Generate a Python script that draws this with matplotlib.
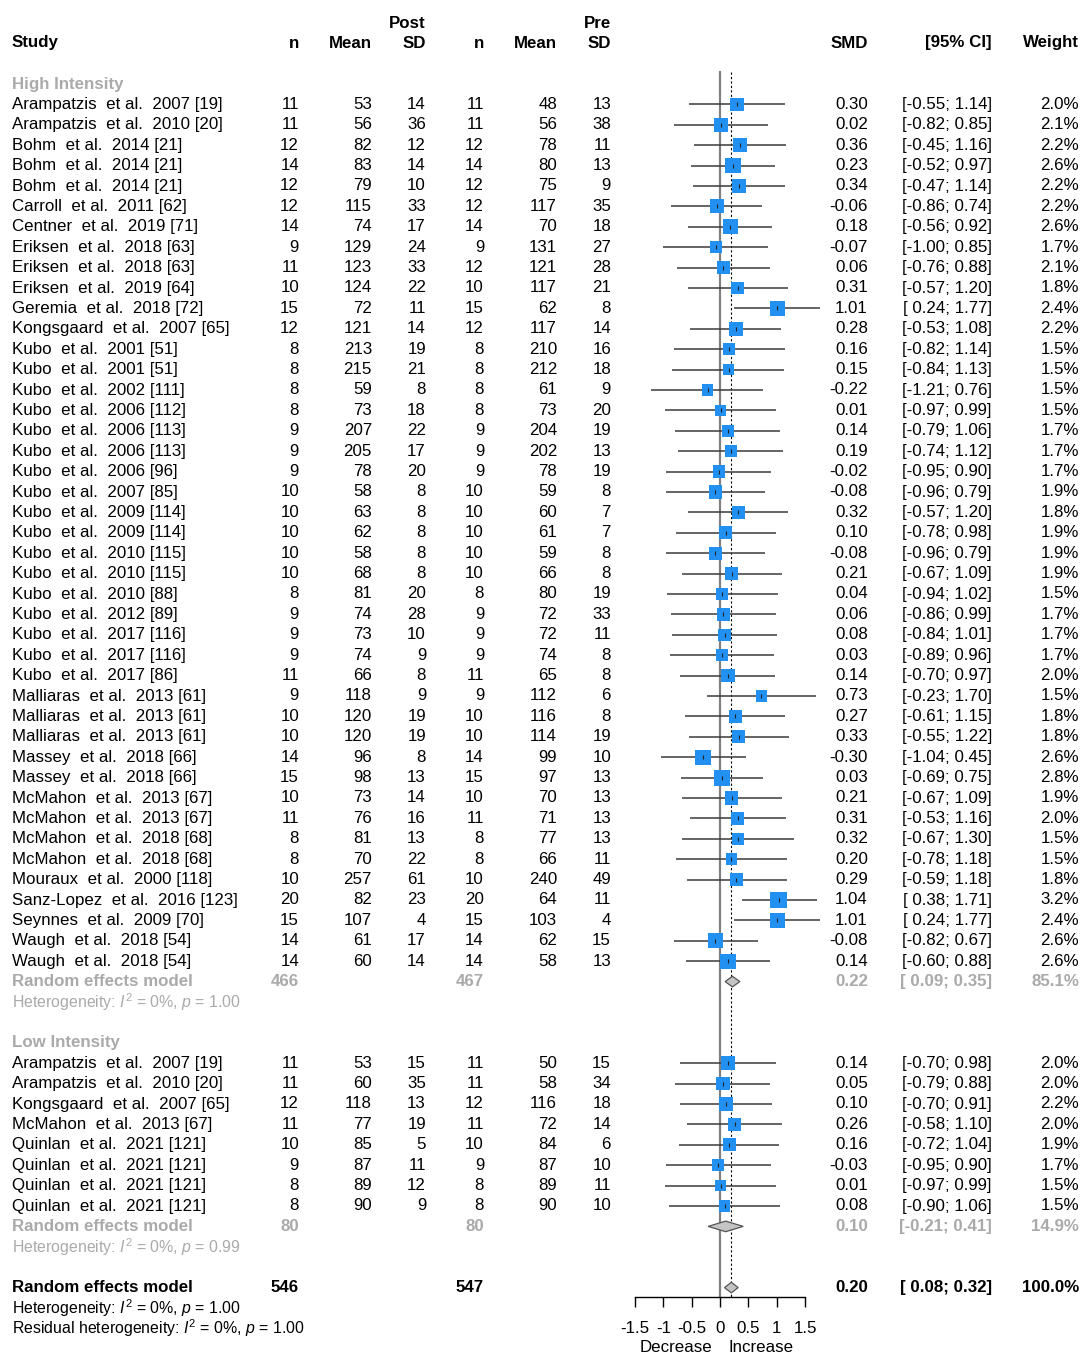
import matplotlib
matplotlib.use("Agg")
import matplotlib.pyplot as plt
from matplotlib.patches import Polygon

plt.rcParams['font.family'] = ['Liberation Sans', 'DejaVu Sans']
plt.rcParams['mathtext.fontset'] = 'custom'
plt.rcParams['mathtext.rm'] = 'Liberation Sans'
plt.rcParams['mathtext.it'] = 'Liberation Sans:italic'

# ---------------- data ----------------
high_study = [
    "Arampatzis  et al.  2007 [19]", "Arampatzis  et al.  2010 [20]",
    "Bohm  et al.  2014 [21]", "Bohm  et al.  2014 [21]", "Bohm  et al.  2014 [21]",
    "Carroll  et al.  2011 [62]", "Centner  et al.  2019 [71]",
    "Eriksen  et al.  2018 [63]", "Eriksen  et al.  2018 [63]", "Eriksen  et al.  2019 [64]",
    "Geremia  et al.  2018 [72]", "Kongsgaard  et al.  2007 [65]",
    "Kubo  et al.  2001 [51]", "Kubo  et al.  2001 [51]", "Kubo  et al.  2002 [111]",
    "Kubo  et al.  2006 [112]", "Kubo  et al.  2006 [113]", "Kubo  et al.  2006 [113]",
    "Kubo  et al.  2006 [96]", "Kubo  et al.  2007 [85]", "Kubo  et al.  2009 [114]",
    "Kubo  et al.  2009 [114]", "Kubo  et al.  2010 [115]", "Kubo  et al.  2010 [115]",
    "Kubo  et al.  2010 [88]", "Kubo  et al.  2012 [89]", "Kubo  et al.  2017 [116]",
    "Kubo  et al.  2017 [116]", "Kubo  et al.  2017 [86]",
    "Malliaras  et al.  2013 [61]", "Malliaras  et al.  2013 [61]", "Malliaras  et al.  2013 [61]",
    "Massey  et al.  2018 [66]", "Massey  et al.  2018 [66]",
    "McMahon  et al.  2013 [67]", "McMahon  et al.  2013 [67]",
    "McMahon  et al.  2018 [68]", "McMahon  et al.  2018 [68]",
    "Mouraux  et al.  2000 [118]", "Sanz-Lopez  et al.  2016 [123]",
    "Seynnes  et al.  2009 [70]", "Waugh  et al.  2018 [54]", "Waugh  et al.  2018 [54]",
]
high_n_post = [11, 11, 12, 14, 12, 12, 14, 9, 11, 10, 15, 12, 8, 8, 8, 8, 9, 9, 9, 10, 10, 10,
               10, 10, 8, 9, 9, 9, 11, 9, 10, 10, 14, 15, 10, 11, 8, 8, 10, 20, 15, 14, 14]
high_mean_post = [53, 56, 82, 83, 79, 115, 74, 129, 123, 124, 72, 121, 213, 215, 59, 73, 207, 205,
                  78, 58, 63, 62, 58, 68, 81, 74, 73, 74, 66, 118, 120, 120, 96, 98, 73, 76, 81,
                  70, 257, 82, 107, 61, 60]
high_sd_post = [14, 36, 12, 14, 10, 33, 17, 24, 33, 22, 11, 14, 19, 21, 8, 18, 22, 17, 20, 8, 8, 8,
                8, 8, 20, 28, 10, 9, 8, 9, 19, 19, 8, 13, 14, 16, 13, 22, 61, 23, 4, 17, 14]
high_n_pre = [11, 11, 12, 14, 12, 12, 14, 9, 12, 10, 15, 12, 8, 8, 8, 8, 9, 9, 9, 10, 10, 10,
              10, 10, 8, 9, 9, 9, 11, 9, 10, 10, 14, 15, 10, 11, 8, 8, 10, 20, 15, 14, 14]
high_mean_pre = [48, 56, 78, 80, 75, 117, 70, 131, 121, 117, 62, 117, 210, 212, 61, 73, 204, 202,
                 78, 59, 60, 61, 59, 66, 80, 72, 72, 74, 65, 112, 116, 114, 99, 97, 70, 71, 77,
                 66, 240, 64, 103, 62, 58]
high_sd_pre = [13, 38, 11, 13, 9, 35, 18, 27, 28, 21, 8, 14, 16, 18, 9, 20, 19, 13, 19, 8, 7, 7,
               8, 8, 19, 33, 11, 8, 8, 6, 8, 19, 10, 13, 13, 13, 13, 11, 49, 11, 4, 15, 13]
high_smd = [0.30, 0.02, 0.36, 0.23, 0.34, -0.06, 0.18, -0.07, 0.06, 0.31, 1.01, 0.28, 0.16, 0.15,
            -0.22, 0.01, 0.14, 0.19, -0.02, -0.08, 0.32, 0.10, -0.08, 0.21, 0.04, 0.06, 0.08,
            0.03, 0.14, 0.73, 0.27, 0.33, -0.30, 0.03, 0.21, 0.31, 0.32, 0.20, 0.29, 1.04,
            1.01, -0.08, 0.14]
high_lo = [-0.55, -0.82, -0.45, -0.52, -0.47, -0.86, -0.56, -1.00, -0.76, -0.57, 0.24, -0.53,
           -0.82, -0.84, -1.21, -0.97, -0.79, -0.74, -0.95, -0.96, -0.57, -0.78, -0.96, -0.67,
           -0.94, -0.86, -0.84, -0.89, -0.70, -0.23, -0.61, -0.55, -1.04, -0.69, -0.67, -0.53,
           -0.67, -0.78, -0.59, 0.38, 0.24, -0.82, -0.60]
high_hi = [1.14, 0.85, 1.16, 0.97, 1.14, 0.74, 0.92, 0.85, 0.88, 1.20, 1.77, 1.08, 1.14, 1.13,
           0.76, 0.99, 1.06, 1.12, 0.90, 0.79, 1.20, 0.98, 0.79, 1.09, 1.02, 0.99, 1.01, 0.96,
           0.97, 1.70, 1.15, 1.22, 0.45, 0.75, 1.09, 1.16, 1.30, 1.18, 1.18, 1.71, 1.77, 0.67,
           0.88]
high_weight = [2.0, 2.1, 2.2, 2.6, 2.2, 2.2, 2.6, 1.7, 2.1, 1.8, 2.4, 2.2, 1.5, 1.5, 1.5, 1.5,
               1.7, 1.7, 1.7, 1.9, 1.8, 1.9, 1.9, 1.9, 1.5, 1.7, 1.7, 1.7, 2.0, 1.5, 1.8, 1.8,
               2.6, 2.8, 1.9, 2.0, 1.5, 1.5, 1.8, 3.2, 2.4, 2.6, 2.6]
high_summary = dict(n_post=466, n_pre=467, smd=0.22, lo=0.09, hi=0.35, weight=85.1, i2=0, p="1.00")

low_study = [
    "Arampatzis  et al.  2007 [19]", "Arampatzis  et al.  2010 [20]",
    "Kongsgaard  et al.  2007 [65]", "McMahon  et al.  2013 [67]",
    "Quinlan  et al.  2021 [121]", "Quinlan  et al.  2021 [121]",
    "Quinlan  et al.  2021 [121]", "Quinlan  et al.  2021 [121]",
]
low_n_post = [11, 11, 12, 11, 10, 9, 8, 8]
low_mean_post = [53, 60, 118, 77, 85, 87, 89, 90]
low_sd_post = [15, 35, 13, 19, 5, 11, 12, 9]
low_n_pre = [11, 11, 12, 11, 10, 9, 8, 8]
low_mean_pre = [50, 58, 116, 72, 84, 87, 89, 90]
low_sd_pre = [15, 34, 18, 14, 6, 10, 11, 10]
low_smd = [0.14, 0.05, 0.10, 0.26, 0.16, -0.03, 0.01, 0.08]
low_lo = [-0.70, -0.79, -0.70, -0.58, -0.72, -0.95, -0.97, -0.90]
low_hi = [0.98, 0.88, 0.91, 1.10, 1.04, 0.90, 0.99, 1.06]
low_weight = [2.0, 2.0, 2.2, 2.0, 1.9, 1.7, 1.5, 1.5]
low_summary = dict(n_post=80, n_pre=80, smd=0.10, lo=-0.21, hi=0.41, weight=14.9, i2=0, p="0.99")

overall = dict(n_post=546, n_pre=547, smd=0.20, lo=0.08, hi=0.32, weight=100.0)

x_ticks = [-1.5, -1, -0.5, 0, 0.5, 1, 1.5]
x_ticklabels = ["-1.5", "-1", "-0.5", "0", "0.5", "1", "1.5"]

# ---------------- layout ----------------
W, H = 1081, 1356
fig = plt.figure(figsize=(W / 100, H / 100), dpi=100)
ax = fig.add_axes([0, 0, 1, 1])
ax.set_xlim(0, W)
ax.set_ylim(H, 0)
ax.axis("off")

ROW0 = 84.0     # pixel y of row 0
DY = 20.4       # pixel row height
FS = 12.2
FS_HET = 11.4
GRAY = "#aaaaaa"
BLUE = "#2190f0"

def ypx(k):
    return ROW0 + DY * k

# column right edges (px)
col_npost, col_mpost, col_sdpost = 299, 372, 426
col_npre, col_mpre, col_sdpre = 484, 557, 611
col_smd, col_ci, col_w = 868, 992, 1079
X_STUDY = 12

def txt(x, y, s, ha="right", color="black", bold=False, size=FS):
    ax.text(x, y, s, ha=ha, va="center", color=color, fontsize=size,
            fontweight="bold" if bold else "normal")

def fmt_ci(lo, hi):
    los = f"{lo:.2f}" if lo < 0 else f" {lo:.2f}"
    return f"[{los}; {hi:.2f}]"

# headers
txt(col_sdpost, 23, "Post", bold=True)
txt(col_sdpre, 23, "Pre", bold=True)
hy = 43
txt(X_STUDY, hy, "Study", ha="left", bold=True)
for x, s in [(col_npost, "n"), (col_mpost, "Mean"), (col_sdpost, "SD"),
             (col_npre, "n"), (col_mpre, "Mean"), (col_sdpre, "SD"),
             (col_smd, "SMD"), (col_ci, "[95% CI]"), (col_w, "Weight")]:
    txt(x, hy, s, bold=True)

# forest axes: 0 at x=720 px, 56.67 px per unit
X0, PXU = 720.0, 56.67
fx_left, fx_right = 560, 880
fy_top, fy_bot = 60, 1297
fax = fig.add_axes([fx_left / W, 1 - fy_bot / H, (fx_right - fx_left) / W, (fy_bot - fy_top) / H])
fax.set_xlim((fx_left - X0) / PXU, (fx_right - X0) / PXU)
fax.set_ylim((fy_bot - ROW0) / DY, (fy_top - ROW0) / DY)
fax.patch.set_alpha(0)
for s in ["top", "left", "right"]:
    fax.spines[s].set_visible(False)
fax.spines["bottom"].set_bounds(-1.5, 1.5)
fax.spines["bottom"].set_linewidth(1.0)
fax.set_yticks([])
fax.set_xticks(x_ticks)
fax.set_xticklabels(x_ticklabels, fontsize=FS)
fax.tick_params(axis="x", direction="out", length=7.5, width=1.0, pad=9.5)

ytop = (72 - ROW0) / DY
ybot = (fy_bot - ROW0) / DY
fax.plot([0, 0], [ytop, ybot], color="#808080", lw=1.6, zorder=1, clip_on=False)
fax.plot([overall["smd"]] * 2, [ytop, ybot], color="black", lw=0.8, ls=(0, (2, 2)), zorder=1,
         clip_on=False)

def draw_group(k_start, studies, npo, mpo, sdpo, npr, mpr, sdpr, smd, lo, hi, wt):
    ks = [k_start + i for i in range(len(studies))]
    for i, k in enumerate(ks):
        y = ypx(k)
        txt(X_STUDY, y, studies[i], ha="left")
        txt(col_npost, y, str(npo[i]))
        txt(col_mpost, y, str(mpo[i]))
        txt(col_sdpost, y, str(sdpo[i]))
        txt(col_npre, y, str(npr[i]))
        txt(col_mpre, y, str(mpr[i]))
        txt(col_sdpre, y, str(sdpr[i]))
        txt(col_smd, y, f"{smd[i]:.2f}")
        txt(col_ci, y, fmt_ci(lo[i], hi[i]))
        txt(col_w, y, f"{wt[i]:.1f}%")
    fax.hlines(ks, lo, hi, color="#3a3a3a", lw=1.1, zorder=2)
    fax.scatter(smd, ks, s=[46.8 * w for w in wt], marker="s", color=BLUE, lw=0, zorder=3)
    fax.scatter(smd, ks, s=12, marker="|", color="#222222", lw=0.8, zorder=4)
    return ks[-1]

def diamond(k, est, lo, hi, h=0.26):
    fax.add_patch(Polygon([(lo, k), (est, k - h), (hi, k), (est, k + h)], closed=True,
                          facecolor="#c4c4c4", edgecolor="#555555", lw=0.9, zorder=5))

def het_text(y, label, i2, p, color):
    ax.text(X_STUDY, y, label + r": $\mathit{I}^2$ = " + f"{i2}%, " + r"$\mathit{p}$ = " + p,
            ha="left", va="center", color=color, fontsize=FS_HET)

def summary_row(k, d, color, label="Random effects model"):
    y = ypx(k)
    txt(X_STUDY, y, label, ha="left", bold=True, color=color)
    txt(col_npost, y, str(d["n_post"]), bold=True, color=color)
    txt(col_npre, y, str(d["n_pre"]), bold=True, color=color)
    txt(col_smd, y, f"{d['smd']:.2f}", bold=True, color=color)
    txt(col_ci, y, fmt_ci(d["lo"], d["hi"]), bold=True, color=color)
    txt(col_w, y, f"{d['weight']:.1f}%", bold=True, color=color)
    diamond(k, d["smd"], d["lo"], d["hi"])

# High intensity
txt(X_STUDY, ypx(0), "High Intensity", ha="left", bold=True, color=GRAY)
last = draw_group(1, high_study, high_n_post, high_mean_post, high_sd_post, high_n_pre,
                  high_mean_pre, high_sd_pre, high_smd, high_lo, high_hi, high_weight)
summary_row(last + 1, high_summary, GRAY)
het_text(ypx(last + 2), "Heterogeneity", high_summary["i2"], high_summary["p"], GRAY)

# Low intensity
kl = last + 4
txt(X_STUDY, ypx(kl), "Low Intensity", ha="left", bold=True, color=GRAY)
last = draw_group(kl + 1, low_study, low_n_post, low_mean_post, low_sd_post, low_n_pre,
                  low_mean_pre, low_sd_pre, low_smd, low_lo, low_hi, low_weight)
summary_row(last + 1, low_summary, GRAY)
het_text(ypx(last + 2), "Heterogeneity", low_summary["i2"], low_summary["p"], GRAY)

# Overall
ko = last + 4
summary_row(ko, overall, "black")
het_text(ypx(ko + 1), "Heterogeneity", 0, "1.00", "black")
het_text(ypx(ko + 2), "Residual heterogeneity", 0, "1.00", "black")

# axis direction labels
ax.text(712, 1348, "Decrease", ha="right", va="center", fontsize=FS)
ax.text(728, 1348, "Increase", ha="left", va="center", fontsize=FS)

fig.savefig("out.png", dpi=100)
